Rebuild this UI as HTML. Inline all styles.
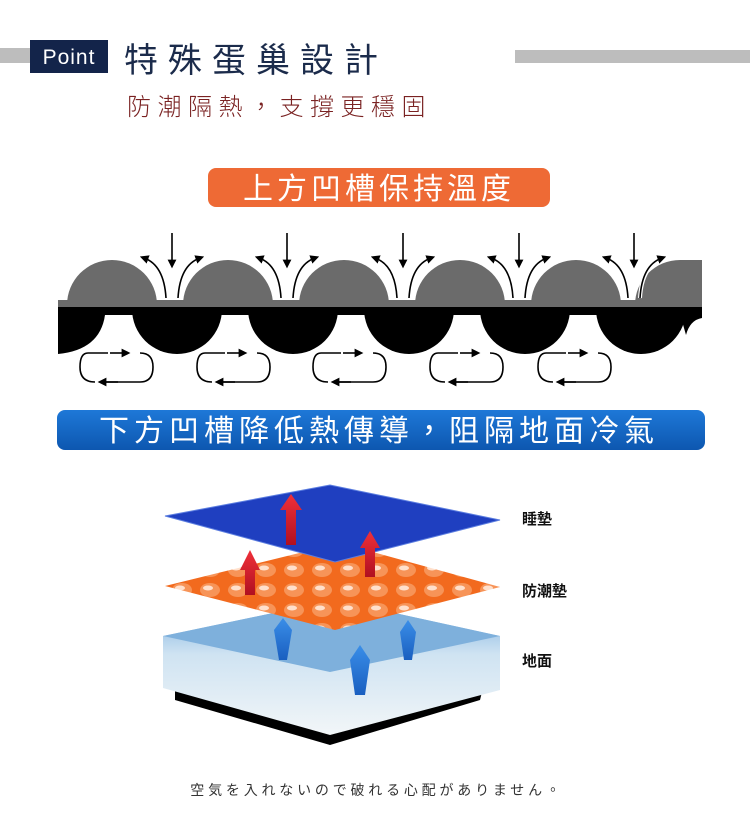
<!DOCTYPE html>
<html><head><meta charset="utf-8"><style>
html,body{margin:0;padding:0;background:#fff;width:750px;height:832px;overflow:hidden}
svg{display:block}
text{font-family:"Liberation Sans","Noto Sans CJK TC",sans-serif}
</style></head><body>
<svg width="750" height="832" viewBox="0 0 750 832" xmlns="http://www.w3.org/2000/svg">
<defs>
<marker id="ah" viewBox="0 0 10 10" refX="5" refY="5" markerWidth="5.5" markerHeight="5.5" orient="auto" markerUnits="strokeWidth"><path d="M0,0 L10,5 L0,10 z" fill="#000"/></marker>
<clipPath id="top"><rect x="58" y="200" width="644" height="107"/></clipPath>
<clipPath id="bot"><rect x="58" y="307" width="644" height="60"/></clipPath>
<linearGradient id="bl" x1="0" y1="0" x2="0" y2="1"><stop offset="0" stop-color="#1e78d8"/><stop offset="1" stop-color="#0d57b0"/></linearGradient>
<linearGradient id="ground" x1="0" y1="0" x2="0" y2="1"><stop offset="0" stop-color="#6fa8dc"/><stop offset="0.4" stop-color="#cfe3f2"/><stop offset="1" stop-color="#f2f6f8"/></linearGradient>
<linearGradient id="red" x1="0" y1="0" x2="0" y2="1"><stop offset="0" stop-color="#f0303a"/><stop offset="1" stop-color="#b01020"/></linearGradient>
<linearGradient id="blu" x1="0" y1="0" x2="0" y2="1"><stop offset="0" stop-color="#3a8ee8"/><stop offset="1" stop-color="#1a5fc0"/></linearGradient>
<pattern id="eggs" width="28" height="20" patternUnits="userSpaceOnUse"><rect width="28" height="20" fill="#f26a1e"/><ellipse cx="14" cy="10" rx="10" ry="7" fill="#f79458"/><ellipse cx="12" cy="8" rx="5" ry="2.5" fill="#ffe0cc"/></pattern>
</defs>

<rect x="0" y="48" width="30" height="15" fill="#bdbdbd"/>
<rect x="30" y="40" width="78" height="33" fill="#13244a"/>
<text x="69" y="64" font-size="21" fill="#fff" text-anchor="middle" letter-spacing="1">Point</text>
<text x="124" y="72" font-size="34" fill="#1b2b4b" letter-spacing="10">特殊蛋巢設計</text>
<rect x="515" y="50" width="235" height="13" fill="#bdbdbd"/>
<text x="127" y="115" font-size="24" fill="#7a2222" letter-spacing="6.5" font-weight="300">防潮隔熱，支撐更穩固</text>

<rect x="208" y="168" width="342" height="39" rx="8" fill="#ee6a35"/>
<text x="379" y="199" font-size="30" fill="#fff" text-anchor="middle" letter-spacing="4">上方凹槽保持溫度</text>

<g clip-path="url(#top)">
<rect x="58" y="300" width="644" height="8" fill="#6b6b6b"/>
<circle cx="112" cy="305" r="45" fill="#6b6b6b"/>
<circle cx="228" cy="305" r="45" fill="#6b6b6b"/>
<circle cx="344" cy="305" r="45" fill="#6b6b6b"/>
<circle cx="460" cy="305" r="45" fill="#6b6b6b"/>
<circle cx="576" cy="305" r="45" fill="#6b6b6b"/>
<circle cx="680" cy="305" r="45" fill="#6b6b6b"/>
<rect x="680" y="260" width="22" height="48" fill="#6b6b6b"/>
</g>
<g clip-path="url(#bot)">
<rect x="58" y="307" width="644" height="8" fill="#000"/>
<circle cx="177" cy="309" r="45" fill="#000"/>
<circle cx="293" cy="309" r="45" fill="#000"/>
<circle cx="409" cy="309" r="45" fill="#000"/>
<circle cx="525" cy="309" r="45" fill="#000"/>
<circle cx="641" cy="309" r="45" fill="#000"/>
<path d="M58,307 L58,354 Q100,350 105,315 L105,307 Z" fill="#000"/>
<path d="M680,314 L702,314 L702,318 Q690,320 686,335 Z" fill="#000"/>
</g>
<g stroke="#000" stroke-width="1.6" fill="none">
<g id="da">
<line x1="172" y1="233" x2="172" y2="264" marker-end="url(#ah)"/>
<path d="M166,298 Q164,265 142,258" stroke="#fff" stroke-width="4"/>
<path d="M166,298 Q164,265 144,258" marker-end="url(#ah)"/>
<path d="M178,298 Q180,265 202,258" stroke="#fff" stroke-width="4"/>
<path d="M178,298 Q180,265 200,258" marker-end="url(#ah)"/>
</g>
<use href="#da" x="115"/>
<use href="#da" x="231"/>
<use href="#da" x="347"/>
<use href="#da" x="462"/>
<g id="lp">
<path d="M108,353 L88,353 Q80,353 80,367 Q80,382 95,382" />
<path d="M100,382 L140,382 Q153,382 153,367 Q153,353 140,353" />
<line x1="110" y1="353" x2="126" y2="353" marker-end="url(#ah)"/>
<line x1="118" y1="382" x2="102" y2="382" marker-end="url(#ah)"/>
</g>
<use href="#lp" x="117"/>
<use href="#lp" x="233"/>
<use href="#lp" x="350"/>
<use href="#lp" x="458"/>
</g>

<rect x="57" y="410" width="648" height="40" rx="8" fill="url(#bl)"/>
<text x="379" y="441" font-size="30" fill="#fff" text-anchor="middle" letter-spacing="5">下方凹槽降低熱傳導，阻隔地面冷氣</text>

<polygon points="175,680 330,715 485,680 480,700 330,745 175,700" fill="#000"/>
<polygon points="163,636 335,600 500,636 500,690 330,735 163,688" fill="url(#ground)"/>
<polygon points="163,636 335,600 500,636 330,672" fill="#7eb0dc"/>
<polygon points="165,586 340,543 500,587 335,630" fill="url(#eggs)"/>
<polygon points="165,516 330,485 500,520 335,562" fill="#1f3fc0"/>
<polygon points="165,516 330,485 500,520 335,562" fill="none" stroke="#5c7ee0" stroke-width="1"/>
<polygon points="240,570 250,550 260,570 255,570 255,595 245,595 245,570" fill="url(#red)"/>
<polygon points="280,510 291,494 302,510 296,510 296,545 286,545 286,510" fill="url(#red)"/>
<polygon points="360,548 370,531 380,548 375,548 375,577 365,577 365,548" fill="url(#red)"/>
<polygon points="274,630 283,618 292,630 287,660 279,660" fill="url(#blu)"/>
<polygon points="400,632 408,620 416,632 412,660 404,660" fill="url(#blu)"/>
<polygon points="350,660 360,645 370,660 365,695 355,695" fill="url(#blu)"/>
<text x="522" y="524" font-size="15" font-weight="bold" fill="#111">睡墊</text>
<text x="522" y="596" font-size="15" font-weight="bold" fill="#111">防潮墊</text>
<text x="522" y="666" font-size="15" font-weight="bold" fill="#111">地面</text>

<text x="377" y="795" font-size="14" fill="#333" text-anchor="middle" letter-spacing="3.8">空気を入れないので破れる心配がありません。</text>
</svg>
</body></html>
